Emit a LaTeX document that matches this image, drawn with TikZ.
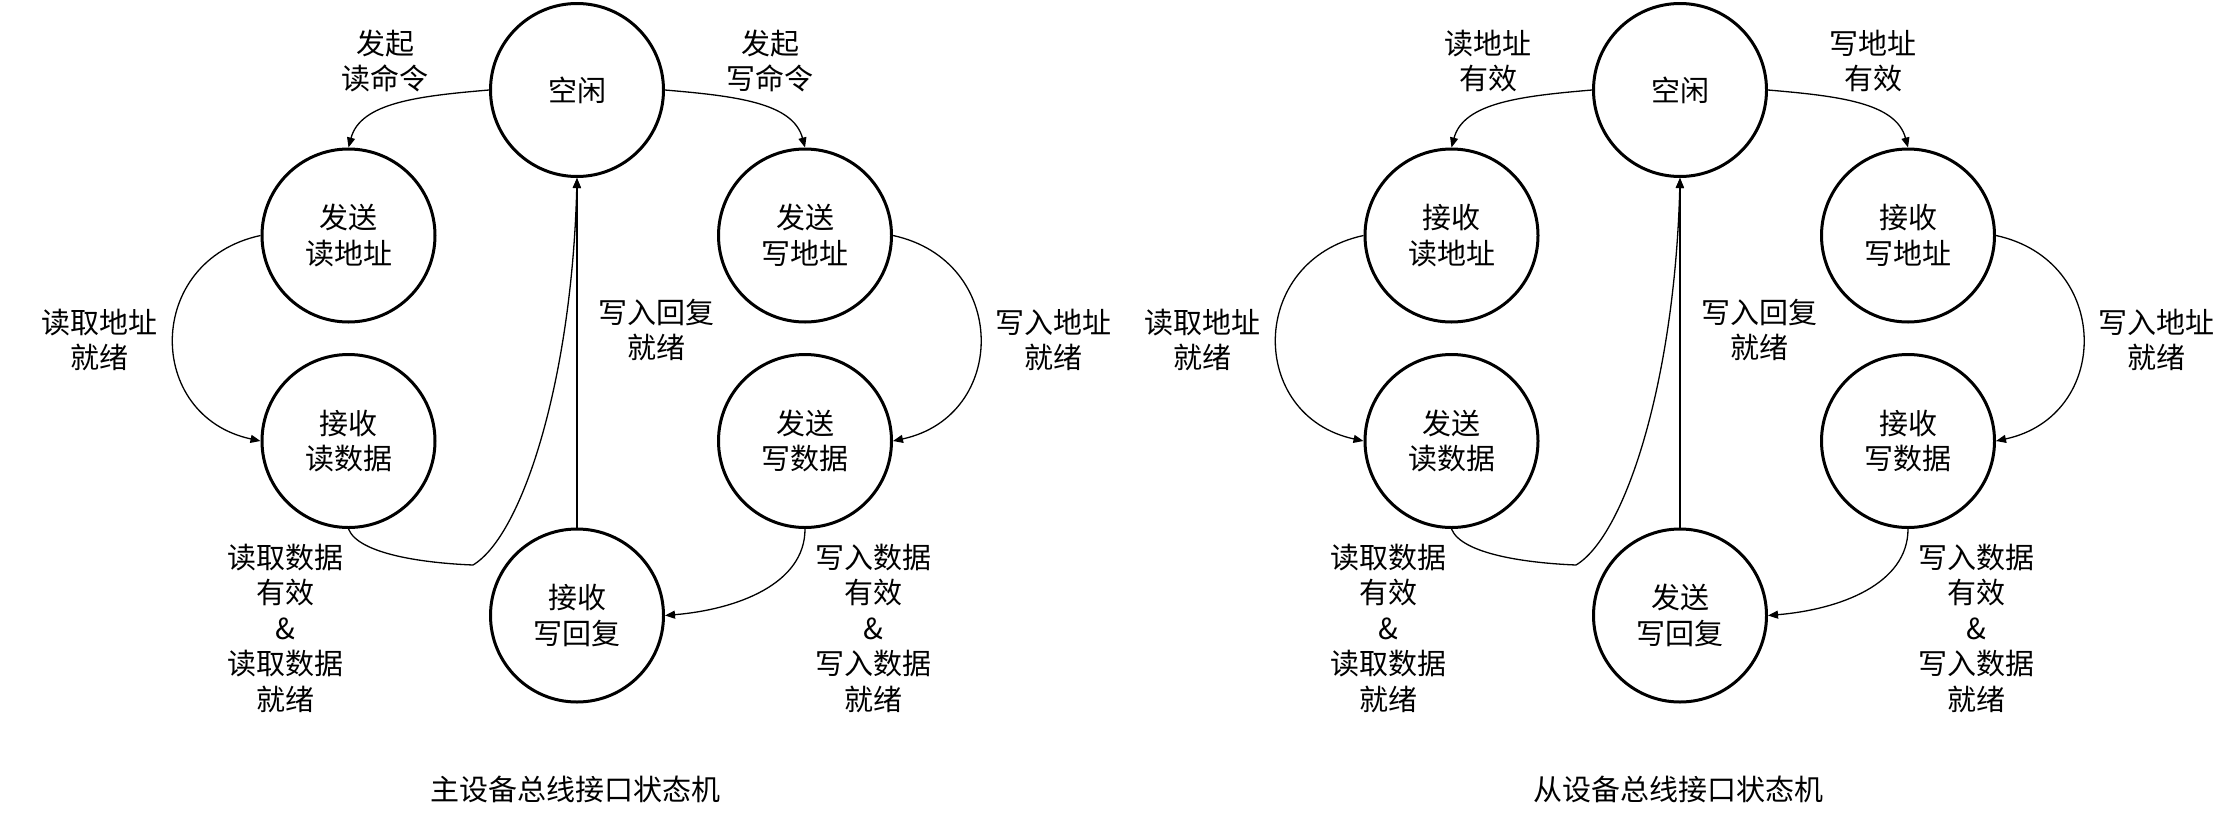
\documentclass[tikz,border=0pt]{standalone}
\usepackage{fontspec}
\setmainfont{Noto Sans CJK SC}
\usetikzlibrary{arrows.meta}
\newcommand\statefont{\fontsize{14.5pt}{17.75pt}\selectfont}
\begin{document}
\begin{tikzpicture}[x=0.5pt,y=-0.5pt,
  state/.style={circle,draw,line width=1.5pt,minimum size=86.5pt,inner sep=0pt,align=center,font=\statefont},
  lbl/.style={align=center,font=\statefont,inner sep=0pt},
  conn/.style={line width=0.65pt,-{Triangle[length=5pt,width=4pt]}}]
\fill[white] (0,0) rectangle (2233,825);
\useasboundingbox (0,0) rectangle (2233,825);

% ---------- master ----------
\begin{scope}[name prefix=L-]
\node[state] (idle) at (577,90) {空闲};
\node[state] (sra) at (348.5,235.5) {发送\\读地址};
\node[state] (rrd) at (348.5,441) {接收\\读数据};
\node[state] (swa) at (805,235.5) {发送\\写地址};
\node[state] (swd) at (805,441) {发送\\写数据};
\node[state] (rwr) at (577,615.5) {接收\\写回复};
\coordinate (c5) at (473,565);

\draw[conn] (idle.west) .. controls +(-70,6) and +(12,-45) .. (sra.north);
\draw[conn] (idle.east) .. controls +(70,6) and +(-12,-45) .. (swa.north);
\draw[conn] (sra.west) .. controls +(-116,25) and +(-116,-25) .. (rrd.west);
\draw[conn] (swa.east) .. controls +(116,25) and +(116,-25) .. (swd.east);
\draw[conn] (rrd.south) .. controls +(10,25) and +(-50,-2) .. (c5) .. controls +(50,-30) and +(-5,200) .. (idle.south);
\draw[conn] (rwr.north) -- (idle.south);
\draw[conn] (swd.south) .. controls +(0,55) and +(72,-6) .. (rwr.east);

\node[lbl] (l1) at (385,61) {发起\\读命令};
\node[lbl] (l2) at (770,61) {发起\\写命令};
\node[lbl] (l3) at (99,340) {读取地址\\就绪};
\node[lbl] (l4) at (1053,340) {写入地址\\就绪};
\node[lbl] (l5) at (656,330) {写入回复\\就绪};
\node[lbl] (l6) at (285,628) {读取数据\\有效\\\&\\读取数据\\就绪};
\node[lbl] (l7) at (873,628) {写入数据\\有效\\\&\\写入数据\\就绪};
\node[lbl] (title) at (575,789) {主设备总线接口状态机};
\end{scope}

% ---------- slave ----------
\begin{scope}[name prefix=R-, xshift=551.5pt]
\node[state] (idle) at (577,90) {空闲};
\node[state] (sra) at (348.5,235.5) {接收\\读地址};
\node[state] (rrd) at (348.5,441) {发送\\读数据};
\node[state] (swa) at (805,235.5) {接收\\写地址};
\node[state] (swd) at (805,441) {接收\\写数据};
\node[state] (rwr) at (577,615.5) {发送\\写回复};
\coordinate (c5) at (473,565);

\draw[conn] (idle.west) .. controls +(-70,6) and +(12,-45) .. (sra.north);
\draw[conn] (idle.east) .. controls +(70,6) and +(-12,-45) .. (swa.north);
\draw[conn] (sra.west) .. controls +(-116,25) and +(-116,-25) .. (rrd.west);
\draw[conn] (swa.east) .. controls +(116,25) and +(116,-25) .. (swd.east);
\draw[conn] (rrd.south) .. controls +(10,25) and +(-50,-2) .. (c5) .. controls +(50,-30) and +(-5,200) .. (idle.south);
\draw[conn] (rwr.north) -- (idle.south);
\draw[conn] (swd.south) .. controls +(0,55) and +(72,-6) .. (rwr.east);

\node[lbl] (l1) at (385,61) {读地址\\有效};
\node[lbl] (l2) at (770,61) {写地址\\有效};
\node[lbl] (l3) at (99,340) {读取地址\\就绪};
\node[lbl] (l4) at (1053,340) {写入地址\\就绪};
\node[lbl] (l5) at (656,330) {写入回复\\就绪};
\node[lbl] (l6) at (285,628) {读取数据\\有效\\\&\\读取数据\\就绪};
\node[lbl] (l7) at (873,628) {写入数据\\有效\\\&\\写入数据\\就绪};
\node[lbl] (title) at (575,789) {从设备总线接口状态机};
\end{scope}
\end{tikzpicture}
\end{document}
